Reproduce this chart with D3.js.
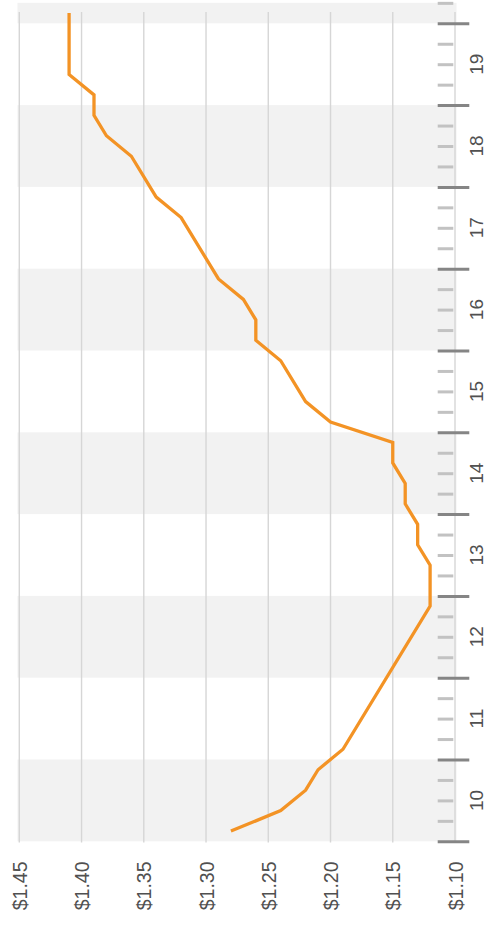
<!DOCTYPE html>
<html>
<head>
<meta charset="utf-8">
<script src="https://cdn.jsdelivr.net/npm/d3@7"></script>
<style>
  html, body { margin: 0; padding: 0; background: #fff; }
  svg { display: block; }
  text { font-family: "Helvetica Neue", Helvetica, "Liberation Sans", Arial, sans-serif; }
</style>
</head>
<body>
<svg id="chart" width="487" height="930"></svg>
<script>
// Period positions (centre of each quarter) and price at that point
const periods = [10.125, 10.375, 10.625, 10.875, 11.125, 12.875, 13.375, 13.625,
                 13.875, 14.125, 14.375, 14.625, 14.875, 15.125, 15.375, 15.875,
                 16.125, 16.375, 16.625, 16.875, 17.625, 17.875, 18.375, 18.625,
                 18.875, 19.125, 19.375, 20.125];
const prices = [1.28, 1.24, 1.22, 1.21, 1.19, 1.12, 1.12, 1.13,
                1.13, 1.14, 1.14, 1.15, 1.15, 1.20, 1.22, 1.24,
                1.26, 1.26, 1.27, 1.29, 1.32, 1.34, 1.36, 1.38,
                1.39, 1.39, 1.41, 1.41];
const periodLabels = [10, 11, 12, 13, 14, 15, 16, 17, 18, 19];
const priceTicks = [1.10, 1.15, 1.20, 1.25, 1.30, 1.35, 1.40, 1.45];

const svg = d3.select("#chart");

// Time runs bottom-to-top, price runs right-to-left
const y = d3.scaleLinear().domain([10, 20.25]).range([841.3, 2.85]);
const x = d3.scaleLinear().domain([1.10, 1.45]).range([455, 19.3]);

const left = 17.5, right = 456.5;

// Alternating period bands
const bandStarts = d3.range(10, 21, 2);
svg.append("g").selectAll("rect")
  .data(bandStarts)
  .join("rect")
  .attr("x", left)
  .attr("width", right - left)
  .attr("y", d => y(Math.min(d + 1, 20.25)))
  .attr("height", d => y(d) - y(Math.min(d + 1, 20.25)))
  .attr("fill", "#f2f2f2");

// Vertical price grid lines
svg.append("g").selectAll("line")
  .data(priceTicks)
  .join("line")
  .attr("x1", d => x(d)).attr("x2", d => x(d))
  .attr("y1", 12).attr("y2", 842.5)
  .attr("stroke", "#d6d6d6")
  .attr("stroke-width", 1.4);

// Quarter ticks (minor) and period boundaries (major)
const minorVals = d3.range(10, 20.26, 0.25).filter(v => Math.abs(v - Math.round(v)) > 1e-6);
const majorVals = d3.range(10, 21, 1);

const minorAxis = svg.append("g")
  .attr("transform", "translate(437.7,0)")
  .call(d3.axisRight(y).tickValues(minorVals).tickSize(15.6).tickFormat(""));
minorAxis.select(".domain").remove();
minorAxis.selectAll(".tick line").attr("stroke", "#c2c2c2").attr("stroke-width", 3);

const majorAxis = svg.append("g")
  .attr("transform", "translate(437.7,0)")
  .call(d3.axisRight(y).tickValues(majorVals).tickSize(31.6).tickFormat(""));
majorAxis.select(".domain").remove();
majorAxis.selectAll(".tick line").attr("stroke", "#858585").attr("stroke-width", 3);

// Period labels, centred in each band
svg.append("g").selectAll("text")
  .data(periodLabels)
  .join("text")
  .attr("transform", d => `translate(476.5,${y(d + 0.5)}) rotate(-90)`)
  .attr("text-anchor", "middle")
  .attr("dominant-baseline", "central")
  .attr("font-size", 19)
  .attr("fill", "#505050")
  .text(d => d);

// Price labels along the bottom
const priceAxis = svg.append("g")
  .attr("transform", "translate(0,861.5)")
  .call(d3.axisBottom(x).tickValues(priceTicks).tickSize(0)
    .tickFormat(d => "$" + d3.format(".2f")(d)));
priceAxis.select(".domain").remove();
priceAxis.selectAll(".tick text")
  .attr("transform", "rotate(-90)")
  .attr("x", 0).attr("y", 0).attr("dy", null)
  .attr("dominant-baseline", "central")
  .attr("text-anchor", "end")
  .attr("font-size", 19.5)
  .attr("fill", "#505050");

// Price line
const line = d3.line()
  .x((d, i) => x(prices[i]))
  .y((d, i) => y(periods[i]));

svg.append("path")
  .datum(periods)
  .attr("d", line)
  .attr("fill", "none")
  .attr("stroke", "#f39325")
  .attr("stroke-width", 3.3)
  .attr("stroke-linejoin", "miter");
</script>
</body>
</html>
